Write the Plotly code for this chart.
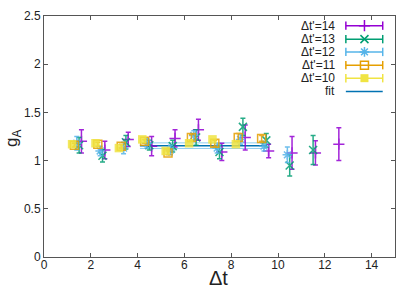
import plotly.graph_objects as go

# ---- data ----
labels = ["Δt'=14", "Δt'=13", "Δt'=12", "Δt'=11", "Δt'=10"]
colors = ["#9400D3", "#009E73", "#56B4E9", "#E69F00", "#F0E442"]
symbols = ["cross-thin", "x-thin", "asterisk", "square-open", "square"]

x14 = [1.6, 2.6, 3.6, 4.6, 5.6, 6.6, 7.6, 8.6, 9.6, 10.6, 11.6, 12.6]
y14 = [1.20, 1.11, 1.22, 1.15, 1.23, 1.32, 1.09, 1.24, 1.10, 1.08, 1.08, 1.17]
e14 = [0.12, 0.09, 0.075, 0.10, 0.09, 0.11, 0.09, 0.13, 0.07, 0.17, 0.125, 0.17]

x13 = [1.5, 2.5, 3.5, 4.5, 5.5, 6.5, 7.5, 8.5, 9.5, 10.5, 11.5]
y13 = [1.16, 1.05, 1.19, 1.16, 1.15, 1.24, 1.09, 1.35, 1.21, 0.95, 1.11]
e13 = [0.08, 0.065, 0.07, 0.05, 0.06, 0.08, 0.07, 0.09, 0.07, 0.11, 0.15]

x12 = [1.4, 2.4, 3.4, 4.4, 5.4, 6.4, 7.4, 8.4, 9.4, 10.4]
y12 = [1.18, 1.10, 1.13, 1.18, 1.11, 1.26, 1.13, 1.22, 1.15, 1.06]
e12 = [0.07, 0.05, 0.06, 0.05, 0.05, 0.05, 0.05, 0.05, 0.05, 0.08]

x11 = [1.3, 2.3, 3.3, 4.3, 5.3, 6.3, 7.3, 8.3, 9.3]
y11 = [1.16, 1.17, 1.15, 1.20, 1.08, 1.24, 1.18, 1.24, 1.23]
e11 = [0.02, 0.02, 0.02, 0.02, 0.02, 0.03, 0.03, 0.04, 0.03]

x10 = [1.2, 2.2, 3.2, 4.2, 5.2, 6.2, 7.2, 8.2]
y10 = [1.17, 1.18, 1.13, 1.22, 1.10, 1.18, 1.22, 1.17]
e10 = [0.02, 0.015, 0.02, 0.02, 0.02, 0.02, 0.025, 0.02]

fit_x = [4.1, 9.5]
fit_val = 1.155
fit_err = 0.029

xticks = [0, 2, 4, 6, 8, 10, 12, 14]
yticks = [0, 0.5, 1, 1.5, 2, 2.5]
ytick_text = ["0", "0.5", "1", "1.5", "2", "2.5"]

series = [(x14, y14, e14), (x13, y13, e13), (x12, y12, e12), (x11, y11, e11), (x10, y10, e10)]

fig = go.Figure()

# fit band + line
fig.add_trace(go.Scatter(x=fit_x, y=[fit_val + fit_err] * 2, mode="lines",
                         line=dict(color="#8fcdf0", width=1), showlegend=False, hoverinfo="skip"))
fig.add_trace(go.Scatter(x=fit_x, y=[fit_val - fit_err] * 2, mode="lines",
                         line=dict(color="#8fcdf0", width=1), showlegend=False, hoverinfo="skip"))
fig.add_trace(go.Scatter(x=fit_x, y=[fit_val] * 2, mode="lines",
                         line=dict(color="#0072B2", width=1.5), showlegend=False))

for (xs, ys, es), lab, col, sym in zip(series, labels, colors, symbols):
    filled = sym == "square"
    fig.add_trace(go.Scatter(
        x=xs, y=ys, mode="markers", name=lab, showlegend=False,
        marker=dict(symbol=sym, size=8.5 if filled else 8, color=col,
                    line=dict(color=col, width=1.5 if not filled else 0)),
        error_y=dict(type="data", array=es, color=col, thickness=1.5, width=2.5),
        opacity=0.85,
    ))

# manual gnuplot-style key on overlay axes
ky = [0.960, 0.904, 0.851, 0.796, 0.742, 0.687]
x0, xm, x1 = 0.860, 0.913, 0.965
for i, (lab, col, sym) in enumerate(zip(labels, colors, symbols)):
    fig.add_trace(go.Scatter(x=[x0, x1], y=[ky[i], ky[i]], xaxis="x2", yaxis="y2",
                             mode="lines+markers", line=dict(color=col, width=1.5),
                             marker=dict(symbol="line-ns", size=6, line=dict(color=col, width=1.5)),
                             showlegend=False, hoverinfo="skip"))
    filled = sym == "square"
    fig.add_trace(go.Scatter(x=[xm], y=[ky[i]], xaxis="x2", yaxis="y2", mode="markers",
                             marker=dict(symbol=sym, size=8, color=col,
                                         line=dict(color=col, width=1.5 if not filled else 0)),
                             showlegend=False, hoverinfo="skip"))
    fig.add_annotation(x=0.835, y=ky[i], xref="x2", yref="y2", text=lab, showarrow=False,
                       xanchor="right", yanchor="middle", font=dict(size=12, color="#222"))
fig.add_trace(go.Scatter(x=[x0, x1], y=[ky[5], ky[5]], xaxis="x2", yaxis="y2", mode="lines",
                         line=dict(color="#0072B2", width=1.5), showlegend=False, hoverinfo="skip"))
fig.add_annotation(x=0.835, y=ky[5], xref="x2", yref="y2", text="fit", showarrow=False,
                   xanchor="right", yanchor="middle", font=dict(size=12, color="#222"))

# axis titles
fig.add_annotation(x=0.497, y=-0.088, xref="paper", yref="paper", text="Δt", showarrow=False,
                   xanchor="center", yanchor="middle", font=dict(size=20, color="#222"))
fig.add_annotation(x=-0.088, y=0.49, xref="paper", yref="paper", text="g<sub>A</sub>",
                   showarrow=False, textangle=-90, xanchor="center", yanchor="middle",
                   font=dict(size=17, color="#222"))

axis_common = dict(showgrid=False, zeroline=False, showline=True, linecolor="#555", linewidth=1,
                   mirror="ticks", ticks="inside", ticklen=4, tickcolor="#555",
                   tickfont=dict(size=12, color="#222"))

fig.update_layout(
    width=409, height=288,
    margin=dict(l=44, r=14, t=9, b=31),
    paper_bgcolor="white", plot_bgcolor="white",
    font=dict(family="Liberation Sans, Arial, sans-serif", color="#222"),
    xaxis=dict(range=[0, 15], tickvals=xticks, ticklabelstandoff=-3, **axis_common),
    yaxis=dict(range=[0, 2.5], tickvals=yticks, ticktext=ytick_text, **axis_common),
    xaxis2=dict(range=[0, 1], overlaying="x", visible=False, fixedrange=True),
    yaxis2=dict(range=[0, 1], overlaying="y", visible=False, fixedrange=True),
    showlegend=False,
)

# remove the default page margin so the figure sits at the window's top-left corner
fig.write_html("out.html", config={"displayModeBar": False},
               post_script="document.body.style.margin='0px';")
